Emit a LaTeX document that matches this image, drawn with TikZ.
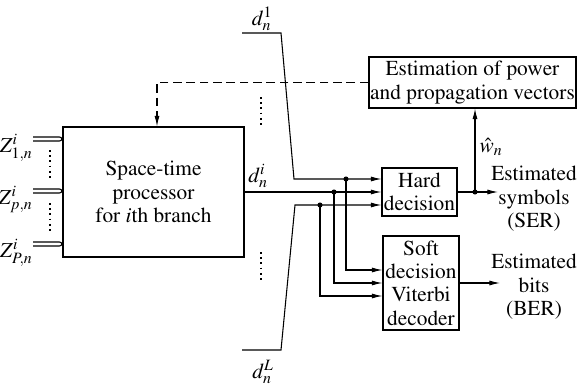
\documentclass[tikz,border=0pt]{standalone}
\usepackage[T1]{fontenc}
\usepackage{mathptmx}
\usetikzlibrary{arrows.meta,calc}

\begin{document}
\begin{tikzpicture}[x=0.75pt,y=0.75pt,yscale=-1,xscale=1,
    line width=0.8pt,
    font=\fontsize{16}{17.5}\selectfont,
    block/.style={draw,align=center,inner sep=0.5pt},
    arr/.style={-{Latex[length=8pt,width=3.8pt]}},
    jdot/.style={circle,fill,inner sep=0pt,minimum size=3.8pt},
    vdots/.style={line width=1.3pt,dash pattern=on 1.3pt off 2.6pt}]
\useasboundingbox (0,0) rectangle (578,385);

%Shape: Rectangle [processor]
\node (stp) [block,minimum width=135.75pt,minimum height=97.5pt] at (153.5,192) {Space-time\\processor\\for $i$th branch};
%Shape: Rectangle [decisions]
\node (hard) [block,minimum width=56.25pt,minimum height=36pt] at (419.5,192) {Hard\\decision};
\node (soft) [block,minimum width=57pt,minimum height=70.5pt] at (421,283) {Soft\\decision\\Viterbi\\decoder};
%Shape: Rectangle [estimation]
\node (est) [block,minimum width=155.25pt,minimum height=38.25pt] at (472.5,82.5) {Estimation of power\\and propagation vectors};

%Inputs
\coordinate (z1) at (33,139);
\coordinate (z2) at (33,191);
\coordinate (z3) at (33,244);
\foreach \z in {z1,z2,z3}
  \draw ($(\z)+(0,-2)$) -- ($(\z -| stp.west)+(-3,-2)$) .. controls +(3,0) and +(3,0) .. ($(\z -| stp.west)+(-3,2)$) -- ($(\z)+(0,2)$);
% Text Node
\node (lz1) [anchor=north east,inner sep=0pt] at (33,134) {$Z^i_{1,n}$};
\node (lz2) [anchor=north east,inner sep=0pt] at (33,186) {$Z^i_{p,n}$};
\node (lz3) [anchor=north east,inner sep=0pt] at (33,239) {$Z^i_{P,n}$};
\draw [vdots] (50,150) -- (50,181);
\draw [vdots] (50,203) -- (50,234);

%Straight Lines [branch outputs]
\draw [arr] (stp.east) -- (hard.west);
\node (ldi) [anchor=south,inner sep=0.5pt] at (258,189) {$d_n^i$};

\coordinate (d1a) at (242,33);
\coordinate (d1b) at (281,33);
\coordinate (d1c) at (294,179);
\draw [arr] (d1a) -- (d1b) -- (d1c) -- (d1c -| hard.west);
\node (ld1) [anchor=south,inner sep=0.5pt] at (262,32) {$d_n^1$};

\coordinate (dLa) at (242,350);
\coordinate (dLb) at (281,350);
\coordinate (dLc) at (295,205);
\draw [arr] (dLa) -- (dLb) -- (dLc) -- (dLc -| hard.west);
\node (ldL) [anchor=north,inner sep=0.5pt] at (263,359) {$d_n^L$};

\draw [vdots] (261,97) -- (261,127);
\draw [vdots] (261,252) -- (261,282);

%Straight Lines [to soft decision]
\coordinate (j1) at (346,179);
\coordinate (j2) at (334,192);
\coordinate (j3) at (320,205);
\draw [arr] (j1) |- ($(soft.west)+(0,-13)$);
\draw [arr] (j2) |- (soft.west);
\draw [arr] (j3) |- ($(soft.west)+(0,13)$);
\foreach \j in {j1,j2,j3}
  \node [jdot] at (\j) {};

%Straight Lines [outputs]
\coordinate (ho) at (498,192);
\coordinate (j4) at (475,192);
\draw [arr] (hard.east) -- (ho);
\draw [arr] (j4) -- (j4 |- est.south);
\node [jdot] at (j4) {};
\node (lw) [anchor=west,inner sep=0pt] at (479,147) {$\hat{w}_n$};

\coordinate (so) at (500,283);
\draw [arr] (soft.east) -- (so);

% Text Node
\node (ser) [anchor=north,align=center,inner sep=0pt] at (534,166) {Estimated\\symbols\\(SER)};
\node (ber) [anchor=north,align=center,inner sep=0pt] at (534,254) {Estimated\\bits\\(BER)};

%Dashed feedback
\coordinate (fb) at (157,82.5);
\draw [arr,dash pattern=on 6.5pt off 3.5pt] (est.west) -- (fb) -- (fb |- stp.north);
\end{tikzpicture}
\end{document}
